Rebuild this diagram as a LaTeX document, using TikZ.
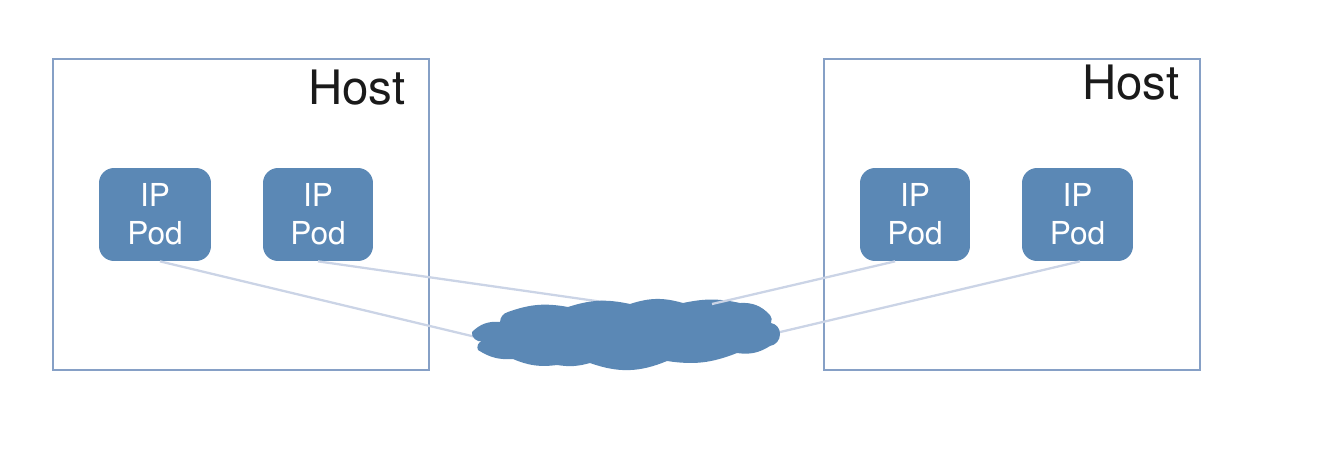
\documentclass[tikz,border=0pt]{standalone}
\usepackage{fontspec}
\setmainfont{TeX Gyre Heros}
\definecolor{podblue}{HTML}{5B88B5}
\definecolor{hostline}{HTML}{86A0C6}
\definecolor{wire}{HTML}{CBD4E6}
\definecolor{hostink}{HTML}{1A1A1A}
\tikzset{ host/.style = { rectangle
                       , draw = hostline
                       , line width = 0.8pt
                       , inner sep    = 0pt
                       , minimum width  = 7.52cm
                       , minimum height = 6.22cm
                       },
            pod/.style = { rectangle
            , fill = podblue
            , rounded corners = 0.3cm
            , text = white
            , align = center
            , inner sep    = 0pt
            , minimum height = 1.86cm
            , font = \fontsize{18}{21.5}\selectfont
            },
            hostlabel/.style = { inner sep = 0pt
            , anchor = base east
            , text = hostink
            , font = \fontsize{27}{30}\selectfont
            },
            wire/.style = { draw = wire
            , line width = 1.3pt
            }
          }

\begin{document}
\begin{tikzpicture}[x=0.02cm, y=-0.02cm]
          \useasboundingbox (0,0) rectangle (1320,464);
          \node[host] (hostA) at (241,214.5) {};
          \node[host] (hostB) at (1012,214.5) {};
          \node[hostlabel] (nameA) at (406,104) {Host};
          \node[hostlabel] (nameB) at (1180,99) {Host};
          \foreach \n/\x/\w in {A/155/2.24, B/318/2.2, C/915/2.2, D/1077.5/2.22} {
            \node[pod, minimum width=\w cm] (pod\n) at (\x,214.5) {IP\\Pod};
          }
          \coordinate (cloudA) at (480,338);
          \coordinate (cloudB) at (610,303);
          \coordinate (cloudC) at (712,304);
          \coordinate (cloudD) at (776,333);
          \draw[wire] (podA.-84)--(cloudA)
                 (podB.-90)--(cloudB)
                 (podD.-87)--(cloudD);
          \fill[podblue] (472,332) to[bend left=25] (500,322)
              to[bend left=35] (508,312) to[bend left=15] (568,307)
              to[bend left=15] (630,304) to[bend left=17] (683,303)
              to[bend left=12] (740,303) to[bend left=25] (770,315)
              to[bend left=30] (771,323) to[bend left=40] (780,334)
              to[bend left=40] (770,346) to[bend left=20] (737,353)
              to[bend left=15] (667,361) to[bend left=21] (590,363)
              to[bend left=12] (557,365) to[bend left=15] (513,359)
              to[bend left=18] (478,350) to[bend left=50] (482,341)
              to[bend left=60] (472,332) -- cycle;
          \draw[wire] (podC.-113)--(cloudC);
        \end{tikzpicture}
\end{document}
